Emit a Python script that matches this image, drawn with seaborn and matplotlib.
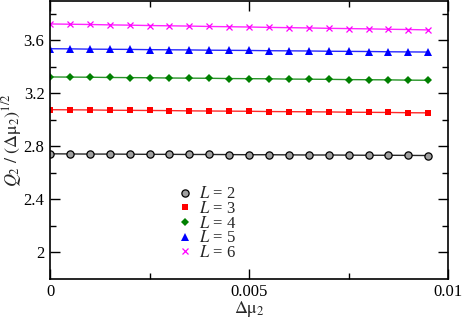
import numpy as np
import pandas as pd
import seaborn as sns
import matplotlib
matplotlib.use("Agg")
import matplotlib.pyplot as plt
from matplotlib.ticker import FixedLocator, FixedFormatter

# values
dmu = [0.0, 0.0005, 0.001, 0.0015, 0.002, 0.0025, 0.003, 0.0035, 0.004, 0.0045,
       0.005, 0.0055, 0.006, 0.0065, 0.007, 0.0075, 0.008, 0.0085, 0.009, 0.0095]
q_L2 = [2.744, 2.743, 2.742, 2.742, 2.741, 2.740, 2.740, 2.739, 2.739, 2.738,
        2.737, 2.737, 2.736, 2.735, 2.735, 2.734, 2.733, 2.733, 2.732, 2.731]
q_L3 = [3.077, 3.076, 3.075, 3.073, 3.072, 3.071, 3.070, 3.068, 3.067, 3.066,
        3.065, 3.063, 3.062, 3.061, 3.060, 3.058, 3.057, 3.056, 3.054, 3.053]
q_L4 = [3.324, 3.323, 3.322, 3.320, 3.319, 3.318, 3.316, 3.315, 3.314, 3.312,
        3.311, 3.310, 3.308, 3.307, 3.306, 3.304, 3.303, 3.302, 3.300, 3.299]
q_L5 = [3.537, 3.536, 3.534, 3.533, 3.532, 3.530, 3.529, 3.528, 3.526, 3.525,
        3.524, 3.522, 3.521, 3.520, 3.518, 3.517, 3.516, 3.514, 3.513, 3.512]
q_L6 = [3.724, 3.722, 3.720, 3.717, 3.715, 3.712, 3.710, 3.708, 3.705, 3.703,
        3.701, 3.698, 3.696, 3.694, 3.691, 3.689, 3.687, 3.684, 3.682, 3.679]

sizes = [2, 3, 4, 5, 6]
series = [q_L2, q_L3, q_L4, q_L5, q_L6]

sns.set_theme(style="ticks")
plt.rcParams['font.family'] = ['Liberation Serif', 'DejaVu Serif']
plt.rcParams['mathtext.fontset'] = 'stix'

fig, ax = plt.subplots(figsize=(4.63, 3.18), dpi=100)
fig.subplots_adjust(left=0.108, right=0.968, bottom=0.123, top=0.998)

line_cols = ['black', 'red', 'green', 'blue', 'magenta']
styles = [dict(marker='o', mfc='#a0a0a0', mec='black', ms=5.2, mew=0.9),
          dict(marker='s', mfc='red', mec='red', ms=5.0, mew=0),
          dict(marker='D', mfc='green', mec='green', ms=4.4, mew=0),
          dict(marker='^', mfc='blue', mec='blue', ms=6.0, mew=0),
          dict(marker='x', mfc='magenta', mec='magenta', ms=5.0, mew=0.9)]

handles = []
for L, q, c, st in zip(sizes, series, line_cols, styles):
    df = pd.DataFrame({'dmu': dmu, 'q': q})
    sns.lineplot(data=df, x='dmu', y='q', color=c, lw=1.0, alpha=0.85, ax=ax)
    h, = ax.plot(df['dmu'], df['q'], ls='none', label=f'$L$ = {L}', **st)
    handles.append(h)

ax.set_xlim(0, 0.01)
ax.set_ylim(1.8, 3.9)
ax.xaxis.set_major_locator(FixedLocator([0, 0.005, 0.01]))
ax.xaxis.set_major_formatter(FixedFormatter(['0', '0.005', '0.01']))
ax.xaxis.set_minor_locator(FixedLocator([0.0025, 0.0075]))
ax.yaxis.set_major_locator(FixedLocator([2, 2.4, 2.8, 3.2, 3.6]))
ax.yaxis.set_major_formatter(FixedFormatter(['2', '2.4', '2.8', '3.2', '3.6']))
ax.yaxis.set_minor_locator(FixedLocator([2.2, 2.6, 3.0, 3.4, 3.8]))
ax.tick_params(which='both', direction='in', top=True, right=True,
               labelsize=12, colors='black', width=1.0)
ax.tick_params(which='major', length=7, pad=4)
ax.tick_params(which='minor', length=4)
for s in ax.spines.values():
    s.set_color('black')
    s.set_linewidth(1.2)

ax.set_xlabel(r'$\Delta\mathrm{\mu}_2$', fontsize=13, labelpad=-1)
ax.set_ylabel(r'$Q_2\ /\ (\Delta\mathrm{\mu}_2)^{1/2}$', fontsize=13, labelpad=0)

ax.legend(handles=handles, loc='upper left', bbox_to_anchor=(0.295, 0.362),
          frameon=False, fontsize=12, handlelength=1.1, handletextpad=0.3,
          labelspacing=-0.08, borderpad=0)

plt.savefig('out.png', dpi=100)
